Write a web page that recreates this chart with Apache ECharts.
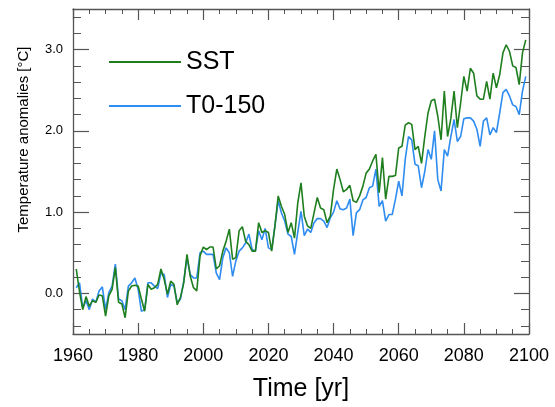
<!DOCTYPE html>
<html>
<head>
<meta charset="utf-8">
<script src="https://cdn.jsdelivr.net/npm/echarts@6/dist/echarts.min.js"></script>
<style>html,body{margin:0;padding:0;background:#fff}#c{width:555px;height:407px}</style>
</head>
<body>
<div id="c"></div>
<script>
var startYear = 1961;
var sst = [0.30,0.02,-0.20,-0.04,-0.16,-0.09,-0.11,-0.02,-0.03,-0.28,
-0.03,0.05,0.32,-0.11,-0.13,-0.30,0.03,0.09,0.10,0.09,
-0.07,-0.22,0.11,0.05,0.07,0.11,0.30,0.17,-0.01,0.15,
0.11,-0.14,-0.05,0.13,0.48,0.21,0.07,0.03,0.46,0.57,
0.54,0.57,0.57,0.30,0.34,0.52,0.64,0.79,0.42,0.44,
0.77,0.82,0.64,0.60,0.52,0.52,0.87,0.75,0.77,0.75,
0.52,0.83,1.20,1.07,0.97,0.75,0.87,0.68,1.11,1.36,
0.95,0.83,0.80,0.99,1.18,1.05,1.03,0.87,0.95,1.28,
1.53,1.40,1.25,1.28,1.33,1.14,1.12,1.20,1.32,1.48,
1.53,1.63,1.71,1.24,1.67,1.16,1.44,1.44,1.45,1.79,
1.81,2.07,2.10,2.08,1.77,1.81,1.60,1.93,2.22,2.37,
2.39,2.18,1.89,2.49,1.93,2.15,2.49,2.04,2.34,2.67,
2.49,2.77,2.71,2.43,2.39,2.39,2.61,2.39,2.71,2.53,
2.69,2.96,3.06,2.98,2.80,2.78,2.57,2.96,3.12];
var t0150 = [0.07,0.13,-0.18,-0.09,-0.20,-0.07,-0.11,0.03,0.08,-0.20,
0.01,0.09,0.36,-0.07,-0.09,-0.20,0.09,0.13,0.19,0.05,
-0.22,-0.20,0.13,0.13,0.09,0.06,0.25,0.23,-0.05,0.11,
0.09,-0.11,-0.07,0.15,0.44,0.23,0.19,0.19,0.50,0.52,
0.48,0.48,0.48,0.25,0.17,0.44,0.56,0.50,0.21,0.40,
0.52,0.56,0.62,0.73,0.54,0.52,0.77,0.66,0.80,0.56,
0.54,0.83,1.14,0.99,0.89,0.73,0.70,0.48,0.75,1.01,
0.71,0.79,0.75,0.87,0.92,0.92,0.89,0.81,0.93,1.00,
1.14,1.04,1.03,1.05,1.16,0.71,0.99,1.03,1.15,1.18,
1.30,1.32,1.53,1.07,1.14,0.89,0.97,0.97,1.16,1.38,
1.20,1.65,1.93,1.89,1.59,1.57,1.30,1.50,1.77,1.65,
2.00,1.40,1.26,1.77,1.69,1.93,2.14,1.87,1.93,2.15,
2.16,2.16,2.12,2.02,1.81,2.12,2.16,1.95,2.04,1.98,
2.22,2.47,2.51,2.43,2.32,2.30,2.20,2.49,2.67];
var yMajor = [0, 1, 2, 3];
var yMinor = [-0.4,-0.2,0.2,0.4,0.6,0.8,1.2,1.4,1.6,1.8,2.2,2.4,2.6,2.8,3.2,3.4];
var seriesNames = ['SST', 'T0-150'];

function pairs(arr) {
  return arr.map(function (v, i) { return [startYear + i, v]; });
}
var axisColor = '#555';
var FONT = 'Liberation Sans';
function xAx(pos, labels) {
  return {
    type: 'value', position: pos, min: 1960, max: 2100, interval: 20,
    axisLine: { show: true, onZero: false, lineStyle: { color: axisColor, width: 1.3 } },
    axisTick: { show: true, inside: true, length: 11, lineStyle: { color: axisColor, width: 1.2 } },
    minorTick: { show: true, splitNumber: 4, length: 5, lineStyle: { color: axisColor, width: 1 } },
    axisLabel: { show: labels, fontSize: 18, color: '#000', margin: 13, fontFamily: FONT,
      formatter: function (v) { return String(v); } },
    splitLine: { show: false },
    name: labels ? 'Time [yr]' : '', nameLocation: 'middle', nameGap: 43,
    nameTextStyle: { fontSize: 25, color: '#000', fontFamily: FONT, lineHeight: 25 }
  };
}
function yAx(pos, vals, len, labels, line, name) {
  return {
    type: 'value', position: pos, min: -0.5, max: 3.5, offset: 0,
    axisLine: { show: line, onZero: false, lineStyle: { color: axisColor, width: 1.3 } },
    axisTick: { show: true, inside: true, length: len, customValues: vals, lineStyle: { color: axisColor, width: len > 10 ? 1.2 : 1 } },
    axisLabel: { show: labels, customValues: vals, fontSize: 13, color: '#000', margin: 10, fontFamily: FONT,
      formatter: function (v) { return v.toFixed(1); } },
    splitLine: { show: false },
    name: name, nameLocation: 'middle', nameGap: 42, nameRotate: 90,
    nameTextStyle: { fontSize: 15, color: '#000', fontFamily: FONT, lineHeight: 15, padding: [0, 0, 0, 64] }
  };
}
var chart = echarts.init(document.getElementById('c'), null, { renderer: 'canvas' });
chart.setOption({
  animation: false,
  backgroundColor: '#fff',
  grid: { left: 73, right: 26, top: 9, bottom: 72, containLabel: false },
  legend: {
    orient: 'vertical', left: 103, top: 44.5, itemWidth: 72, itemHeight: 25, itemGap: 19,
    data: seriesNames,
    itemStyle: { opacity: 0 },
    textStyle: { fontSize: 25, color: '#000', fontFamily: FONT, lineHeight: 25 }
  },
  xAxis: [xAx('bottom', true), xAx('top', false)],
  yAxis: [
    yAx('left', yMajor, 16, true, true, 'Temperature anomalies [\u00B0C]'),
    yAx('left', yMinor, 8, false, false, ''),
    yAx('right', yMajor, 15, false, true, ''),
    yAx('right', yMinor, 8, false, false, '')
  ],
  series: [
    { name: seriesNames[0], type: 'line', data: pairs(sst), symbol: 'none', xAxisIndex: 0, yAxisIndex: 0,
      lineStyle: { color: '#1f7f1f', width: 1.6 }, itemStyle: { color: '#1f7f1f' }, z: 3 },
    { name: seriesNames[1], type: 'line', data: pairs(t0150), symbol: 'none', xAxisIndex: 0, yAxisIndex: 0,
      lineStyle: { color: '#2f8cf0', width: 1.6 }, itemStyle: { color: '#2f8cf0' }, z: 2 }
  ]
});
</script>
</body>
</html>
